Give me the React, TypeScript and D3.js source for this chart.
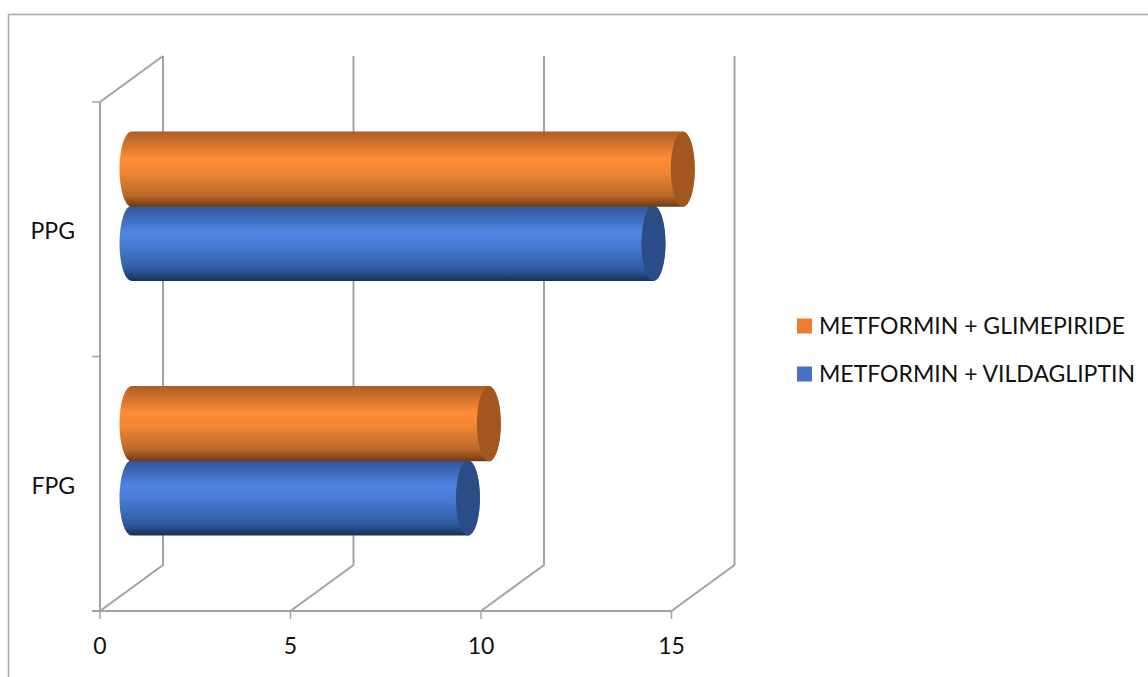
import React from "react";
import * as d3 from "d3";

const categories = ["FPG", "PPG"];
const seriesNames = ["METFORMIN + GLIMEPIRIDE", "METFORMIN + VILDAGLIPTIN"];
const glimepirideValues = [9.38, 14.47];
const vildagliptinValues = [8.83, 13.7];
const xTicks = [0, 5, 10, 15];
const seriesValues = [glimepirideValues, vildagliptinValues];

const palettes = [
  { id: "orange", stops: ["#ad5e24", "#ff8c37", "#f08534", "#b8682a", "#6f3a12"], cap: "#a2571f", key: "#ed7d31" },
  { id: "blue", stops: ["#2f5597", "#4f86e6", "#4678d2", "#2f5a9f", "#182f56"], cap: "#2b4c86", key: "#4472c4" },
];
const stopOffsets = [0, 0.36, 0.55, 0.85, 1];

const FONT = "Lato, 'Open Sans', sans-serif";
const depth = { dx: 63, dy: -46 };
const gridColor = "#a3a3a3";

const x = d3.scaleLinear().domain([0, 15]).range([100, 671.5]);
const y = d3.scaleBand<string>().domain(categories).range([611, 102]);
const inner = d3
  .scaleBand<string>()
  .domain(seriesNames)
  .range([0, y.bandwidth()])
  .paddingInner(0)
  .paddingOuter(0.716);

// One horizontal cylinder, placed halfway into the chart's depth.
function Cylinder({ value, top, palette }: { value: number; top: number; palette: (typeof palettes)[number] }) {
  const x0 = x(0) + depth.dx / 2;
  const x1 = x(value) + depth.dx / 2;
  const h = inner.bandwidth() + 1;
  const y0 = top + depth.dy / 2 - 0.5;
  const ry = h / 2;
  const rx = 12;
  const body = `M${x0},${y0}L${x1},${y0}A${rx},${ry} 0 0 1 ${x1},${y0 + h}L${x0},${y0 + h}A${rx},${ry} 0 0 1 ${x0},${y0}Z`;
  return (
    <g>
      <path d={body} fill={`url(#grad-${palette.id})`} />
      <ellipse cx={x1} cy={y0 + ry} rx={rx} ry={ry} fill={palette.cap} />
    </g>
  );
}

export default function App() {
  const floorY = y.range()[0];
  const ceilY = y.range()[1];
  const midY = (floorY + ceilY) / 2;
  return (
    <svg
      width={1148}
      height={677}
      style={{ position: "absolute", left: 0, top: 0, background: "#fff" }}
      fontFamily={FONT}
    >
      <defs>
        {palettes.map((p) => (
          <linearGradient key={p.id} id={`grad-${p.id}`} x1="0" y1="0" x2="0" y2="1">
            {p.stops.map((c, i) => (
              <stop key={i} offset={stopOffsets[i]} stopColor={c} />
            ))}
          </linearGradient>
        ))}
      </defs>

      {/* outer chart frame */}
      <path d="M8.5,677V14.5H1148" fill="none" stroke="#a8a8a8" strokeWidth={1.5} />

      {/* back wall gridlines with floor diagonals */}
      {xTicks.map((t) => (
        <path
          key={t}
          d={`M${x(t)},${floorY}L${x(t) + depth.dx},${floorY + depth.dy}V${ceilY + depth.dy}`}
          fill="none"
          stroke={gridColor}
          strokeWidth={2}
        />
      ))}

      {/* side wall and top edge */}
      <path
        d={`M${x(0)},${floorY}V${ceilY}L${x(0) + depth.dx},${ceilY + depth.dy}`}
        fill="none"
        stroke={gridColor}
        strokeWidth={2}
      />
      <line x1={92} x2={x(15)} y1={floorY} y2={floorY} stroke={gridColor} strokeWidth={2} />
      {[ceilY, midY].map((v) => (
        <line key={v} x1={92} x2={x(0)} y1={v} y2={v} stroke={gridColor} strokeWidth={1.5} />
      ))}
      {xTicks.map((t) => (
        <line key={t} x1={x(t)} x2={x(t)} y1={floorY} y2={floorY + 8} stroke={gridColor} strokeWidth={1.5} />
      ))}

      {/* cylinders, lower series first so the upper one overlaps it */}
      {categories.map((c, ci) =>
        seriesNames
          .map((s, si) => ({ s, si }))
          .reverse()
          .map(({ s, si }) => (
            <Cylinder
              key={`${c}-${s}`}
              value={seriesValues[si][ci]}
              top={(y(c) as number) + (inner(s) as number)}
              palette={palettes[si]}
            />
          ))
      )}

      {/* axis labels */}
      {xTicks.map((t) => (
        <text key={t} x={x(t)} y={654} textAnchor="middle" fontSize={23} fill="#111">
          {t}
        </text>
      ))}
      {categories.map((c) => (
        <text
          key={c}
          x={75}
          y={(y(c) as number) + y.bandwidth() / 2 + 2}
          dy="0.35em"
          textAnchor="end"
          fontSize={23}
          fill="#111"
        >
          {c}
        </text>
      ))}

      {/* legend */}
      {seriesNames.map((s, i) => (
        <g key={s} transform={`translate(0,${326 + i * 48})`}>
          <rect x={797} y={-7.5} width={15} height={15} fill={palettes[i].key} />
          <text x={819} y={0} dy="0.35em" fontSize={23} fill="#111">
            {s}
          </text>
        </g>
      ))}
    </svg>
  );
}
